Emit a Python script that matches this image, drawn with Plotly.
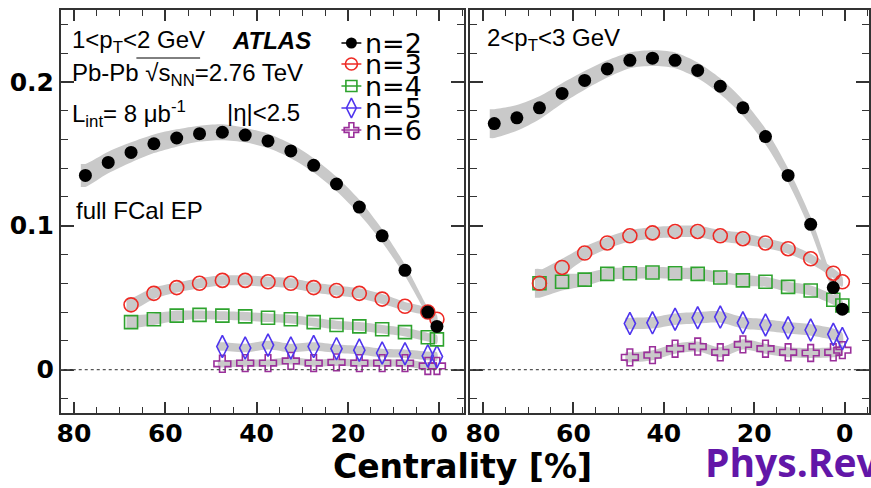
import plotly.graph_objects as go

W, H = 871, 488

# ---- centrality bin centres (%) ----
cent_n2 = [77.5, 72.5, 67.5, 62.5, 57.5, 52.5, 47.5, 42.5, 37.5, 32.5, 27.5, 22.5, 17.5, 12.5, 7.5, 2.5, 0.5]
cent_n34 = [67.5, 62.5, 57.5, 52.5, 47.5, 42.5, 37.5, 32.5, 27.5, 22.5, 17.5, 12.5, 7.5, 2.5, 0.5]
cent_n56 = [47.5, 42.5, 37.5, 32.5, 27.5, 22.5, 17.5, 12.5, 7.5, 2.5, 0.5]

# ---- 1 < pT < 2 GeV ----
v2_lo = [0.135, 0.144, 0.151, 0.157, 0.161, 0.164, 0.165, 0.163, 0.159, 0.152, 0.142, 0.129, 0.113, 0.093, 0.069, 0.040, 0.030]
v3_lo = [0.045, 0.053, 0.057, 0.060, 0.062, 0.062, 0.061, 0.060, 0.057, 0.055, 0.053, 0.049, 0.044, 0.040, 0.035]
v4_lo = [0.033, 0.035, 0.0375, 0.038, 0.0375, 0.037, 0.036, 0.035, 0.033, 0.031, 0.030, 0.028, 0.026, 0.0225, 0.021]
v5_lo = [0.016, 0.015, 0.017, 0.015, 0.016, 0.0145, 0.0135, 0.0115, 0.011, 0.0095, 0.009]
v6_lo = [0.004, 0.0045, 0.0045, 0.006, 0.0045, 0.005, 0.0045, 0.0045, 0.0045, 0.0025, 0.0025]

s2_lo = [0.008, 0.0075, 0.007, 0.0065, 0.006, 0.0055, 0.0055, 0.005, 0.005, 0.005, 0.005, 0.005, 0.005, 0.0045, 0.004, 0.003, 0.003]
s3_lo = [0.0045, 0.004, 0.0035, 0.0035, 0.0035, 0.0035, 0.0035, 0.0035, 0.0035, 0.0035, 0.0035, 0.0035, 0.003, 0.003, 0.003]
s4_lo = [0.0045, 0.004, 0.0035, 0.003, 0.003, 0.003, 0.003, 0.003, 0.003, 0.003, 0.003, 0.003, 0.003, 0.003, 0.003]
s5_lo = [0.003, 0.003, 0.003, 0.003, 0.003, 0.003, 0.003, 0.003, 0.003, 0.003, 0.003]
s6_lo = [0.0025, 0.0025, 0.0025, 0.0025, 0.0025, 0.0025, 0.0025, 0.0025, 0.0025, 0.0025, 0.0025]

# ---- 2 < pT < 3 GeV ----
v2_hi = [0.171, 0.175, 0.182, 0.192, 0.201, 0.209, 0.215, 0.2165, 0.215, 0.208, 0.197, 0.182, 0.162, 0.135, 0.101, 0.057, 0.042]
v3_hi = [0.060, 0.071, 0.081, 0.088, 0.093, 0.095, 0.096, 0.096, 0.093, 0.091, 0.088, 0.084, 0.077, 0.067, 0.061]
v4_hi = [0.060, 0.061, 0.0625, 0.0665, 0.067, 0.0675, 0.067, 0.0665, 0.064, 0.062, 0.061, 0.0575, 0.055, 0.0485, 0.0445]
v5_hi = [0.032, 0.0325, 0.035, 0.036, 0.0365, 0.0325, 0.031, 0.029, 0.0275, 0.0245, 0.0215]
v6_hi = [0.0085, 0.010, 0.0145, 0.016, 0.012, 0.0175, 0.0145, 0.012, 0.0115, 0.012, 0.0135]

s2_hi = [0.010, 0.009, 0.008, 0.007, 0.0065, 0.006, 0.0055, 0.0055, 0.0055, 0.0055, 0.0055, 0.0055, 0.0055, 0.005, 0.005, 0.004, 0.003]
s3_hi = [0.009, 0.006, 0.0045, 0.004, 0.004, 0.004, 0.004, 0.004, 0.004, 0.004, 0.0035, 0.0035, 0.0035, 0.0035, 0.0035]
s4_hi = [0.010, 0.006, 0.0045, 0.004, 0.004, 0.004, 0.004, 0.004, 0.004, 0.004, 0.0035, 0.0035, 0.0035, 0.0035, 0.0035]
s5_hi = [0.004, 0.004, 0.004, 0.004, 0.004, 0.004, 0.004, 0.004, 0.004, 0.004, 0.004]
s6_hi = [0.0035, 0.0035, 0.0035, 0.0035, 0.0035, 0.0035, 0.0035, 0.0035, 0.0035, 0.0035, 0.0035]

harmonics = ["n=2", "n=3", "n=4", "n=5", "n=6"]

STYLE = {
    "n=2": dict(symbol="circle", color="black", size=13, lw=0),
    "n=3": dict(symbol="circle-open", color="#ee2a24", size=14, lw=1.6),
    "n=4": dict(symbol="square-open", color="#2ea32e", size=13, lw=1.6),
    "n=5": dict(symbol="diamond-tall-open", color="#4f35ee", size=16, lw=1.6),
    "n=6": dict(symbol="cross-open", color="#9a2f9a", size=14, lw=1.6),
}

panels = [
    ("x", "y", {"n=2": (cent_n2, v2_lo, s2_lo), "n=3": (cent_n34, v3_lo, s3_lo),
                "n=4": (cent_n34, v4_lo, s4_lo), "n=5": (cent_n56, v5_lo, s5_lo),
                "n=6": (cent_n56, v6_lo, s6_lo)}),
    ("x2", "y2", {"n=2": (cent_n2, v2_hi, s2_hi), "n=3": (cent_n34, v3_hi, s3_hi),
                  "n=4": (cent_n34, v4_hi, s4_hi), "n=5": (cent_n56, v5_hi, s5_hi),
                  "n=6": (cent_n56, v6_hi, s6_hi)}),
]

fig = go.Figure()

# systematic bands first, then the points on top
for xa, ya, series in panels:
    for name in harmonics:
        xs, ys, es = series[name]
        ext = xs[0] + 1.0
        bx = [ext] + xs + xs[::-1] + [ext]
        by = ([ys[0] + es[0]] + [y + e for y, e in zip(ys, es)]
              + [y - e for y, e in zip(ys[::-1], es[::-1])] + [ys[0] - es[0]])
        fig.add_trace(go.Scatter(x=bx, y=by, xaxis=xa, yaxis=ya, mode="lines",
                                 fill="toself", fillcolor="#c9c9c9",
                                 line=dict(width=0, shape="spline", smoothing=0.8),
                                 hoverinfo="skip", showlegend=False))
for xa, ya, series in panels:
    for name in harmonics[::-1]:
        xs, ys, es = series[name]
        st = STYLE[name]
        fig.add_trace(go.Scatter(x=xs, y=ys, xaxis=xa, yaxis=ya, mode="markers", name=name,
                                 marker=dict(symbol=st["symbol"], color=st["color"], size=st["size"],
                                             line=dict(width=st["lw"], color=st["color"])),
                                 showlegend=False))

# hand-placed legend on a pixel-unit overlay axis
leg_x0, leg_x1, leg_tx = 339, 359, 361
leg_rows = [43, 64, 86, 108, 130]
shapes = []
annotations = []
for name, ry in zip(harmonics, leg_rows):
    st = STYLE[name]
    shapes.append(dict(type="line", xref="x3", yref="y3", x0=leg_x0, x1=leg_x1, y0=ry, y1=ry,
                       line=dict(color=st["color"], width=1.5)))
    fig.add_trace(go.Scatter(x=[(leg_x0 + leg_x1) / 2], y=[ry], xaxis="x3", yaxis="y3", mode="markers",
                             marker=dict(symbol=st["symbol"], color=st["color"], size=st["size"] - 2,
                                         line=dict(width=st["lw"], color=st["color"])),
                             showlegend=False, hoverinfo="skip"))
    annotations.append(dict(xref="x3", yref="y3", x=leg_tx, y=ry, text=name, showarrow=False,
                            xanchor="left", yanchor="middle",
                            font=dict(family="DejaVu Sans", size=27, color="black")))

# dotted zero lines
for xa, ya in (("x", "y"), ("x2", "y2")):
    shapes.append(dict(type="line", xref=f"{xa} domain", yref=ya, x0=0, x1=1, y0=0, y1=0,
                       line=dict(color="#555555", width=1.2, dash="dot")))

FONT = "Liberation Sans"
BOLD = "DejaVu Sans"


def txt(x, y, s, size=24, anchor="left", **kw):
    annotations.append(dict(xref="x3", yref="y3", x=x, y=y, text=s, showarrow=False,
                            xanchor=anchor, yanchor="middle",
                            font=dict(family=kw.get("family", FONT), size=size,
                                      color=kw.get("color", "black"), weight=kw.get("weight", "normal"))))


txt(66, 41, "1&lt;p<sub>T</sub>&lt;2 GeV")
txt(227, 40, "<i>ATLAS</i>", weight="bold")
txt(66, 74, "Pb-Pb √s<sub>NN</sub>=2.76 TeV")
txt(66, 114, "L<sub>int</sub>= 8 μb<sup>-1</sup>")
txt(222, 112, "|η|&lt;2.5")
txt(70, 210, "full FCal EP")
txt(483, 39, "2&lt;p<sub>T</sub>&lt;3 GeV")
txt(461, 466, "Centrality [%]", size=33, anchor="center", family=BOLD, weight="bold")
txt(702, 461, "Phys.Rev.C", size=39, family="Open Sans", color="#6216a8", weight="bold")

# overline of the sqrt sign
shapes.append(dict(type="line", xref="x3", yref="y3", x0=133, x1=197, y0=58, y1=58,
                   line=dict(color="black", width=1)))

axis_common = dict(showline=True, linecolor="#333333", linewidth=1.6, mirror="allticks",
                   ticks="inside", tickcolor="#333333", tickwidth=1.5, showgrid=False, zeroline=False,
                   tickfont=dict(family=BOLD, size=25, color="black", weight="bold"))

xcfg = dict(axis_common, range=[82.9, -5.4], tickmode="linear", tick0=0, dtick=20, ticklen=11,
            ticklabelstandoff=-3,
            minor=dict(ticks="inside", ticklen=6, tickwidth=1.3, tickcolor="#333333", dtick=5, tick0=0))
ycfg = dict(axis_common, range=[-0.03, 0.25], tickmode="linear", tick0=0, dtick=0.1, ticklen=13,
            minor=dict(ticks="inside", ticklen=7, tickwidth=1.3, tickcolor="#333333", dtick=0.02, tick0=0))

ydom = [75.3 / H, 478 / H]
fig.update_layout(
    width=W, height=H, margin=dict(l=0, r=0, t=0, b=0),
    paper_bgcolor="white", plot_bgcolor="rgba(0,0,0,0)",
    xaxis=dict(xcfg, domain=[57 / W, 462 / W], anchor="y"),
    yaxis=dict(ycfg, domain=ydom, anchor="x"),
    xaxis2=dict(xcfg, domain=[468 / W, 869 / W], anchor="y2"),
    yaxis2=dict(ycfg, domain=ydom, anchor="x2", showticklabels=False),
    xaxis3=dict(domain=[0, 1], range=[0, W], visible=False, anchor="y3", fixedrange=True),
    yaxis3=dict(domain=[0, 1], range=[H, 0], visible=False, anchor="x3", fixedrange=True),
    shapes=shapes, annotations=annotations, showlegend=False,
)

fig.write_html("out.html")
